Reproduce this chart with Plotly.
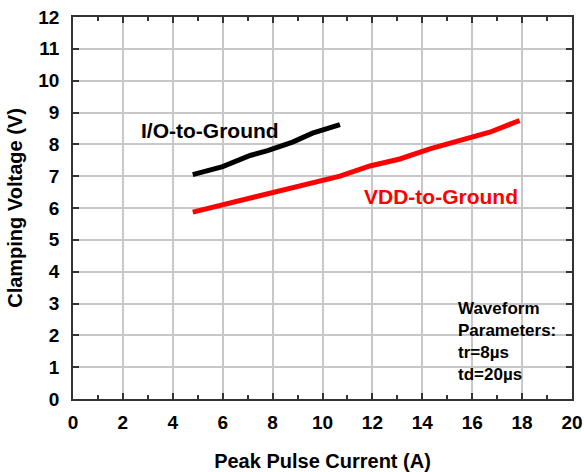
import plotly.graph_objects as go

# Data
io_current = [4.8, 6.0, 7.1, 7.8, 8.8, 9.6, 10.7]
io_voltage = [7.05, 7.3, 7.65, 7.8, 8.07, 8.35, 8.62]

vdd_current = [4.8, 6.0, 7.5, 9.0, 10.7, 11.9, 13.1, 14.3, 15.6, 16.7, 17.9]
vdd_voltage = [5.87, 6.1, 6.4, 6.7, 7.0, 7.32, 7.54, 7.86, 8.12, 8.38, 8.75]

x_ticks = [0, 2, 4, 6, 8, 10, 12, 14, 16, 18, 20]
y_ticks = list(range(0, 13))

FONT = "Liberation Sans"

fig = go.Figure()
fig.add_trace(go.Scatter(x=io_current, y=io_voltage, mode="lines",
                         line=dict(color="black", width=5), showlegend=False))
fig.add_trace(go.Scatter(x=vdd_current, y=vdd_voltage, mode="lines",
                         line=dict(color="#ff0000", width=5), showlegend=False))

fig.add_annotation(x=2.65, y=8.45, text="<b>I/O-to-Ground</b>", showarrow=False,
                   xanchor="left", yanchor="middle",
                   font=dict(family=FONT, size=21, color="black"))
fig.add_annotation(x=11.6, y=6.35, text="<b>VDD-to-Ground</b>", showarrow=False,
                   xanchor="left", yanchor="middle",
                   font=dict(family=FONT, size=21, color="#ff0000"))
fig.add_annotation(x=15.35, y=3.2,
                   text="<b>Waveform<br>Parameters:<br>tr=8\u00b5s<br>td=20\u00b5s</b>",
                   showarrow=False, xanchor="left", yanchor="top", align="left",
                   font=dict(family=FONT, size=17, color="black"))

axis_common = dict(
    showline=True, linecolor="#333333", linewidth=1.5, mirror="ticks",
    showgrid=True, gridcolor="#c8c8c8", gridwidth=1.5,
    ticks="inside", tickcolor="#333333", ticklen=6, tickwidth=1.5,
    zeroline=False, automargin=False,
    tickfont=dict(family=FONT, size=19, color="black"),
)

fig.update_xaxes(range=[0, 20], tickvals=x_ticks, ticktext=[f"<b>{v}</b>" for v in x_ticks],
                 minor=dict(dtick=1, ticks="inside", ticklen=4, tickcolor="#333333", showgrid=False),
                 ticklabelstandoff=5,
                 title=dict(text="<b>Peak Pulse Current (A)</b>", standoff=24,
                            font=dict(family=FONT, size=20, color="black")),
                 **axis_common)
fig.update_yaxes(range=[0, 12], tickvals=y_ticks, ticktext=[f"<b>{v}</b>" for v in y_ticks],
                 ticklabelstandoff=8,
                 title=dict(text="<b>Clamping Voltage (V)</b>", standoff=10,
                            font=dict(family=FONT, size=20, color="black")),
                 **axis_common)

fig.update_layout(width=584, height=472, margin=dict(l=73, r=12, t=17, b=73),
                  paper_bgcolor="white", plot_bgcolor="white")

fig.write_html("out.html", config={"displayModeBar": False},
               post_script="document.body.style.margin='0';document.body.style.overflow='hidden';")
